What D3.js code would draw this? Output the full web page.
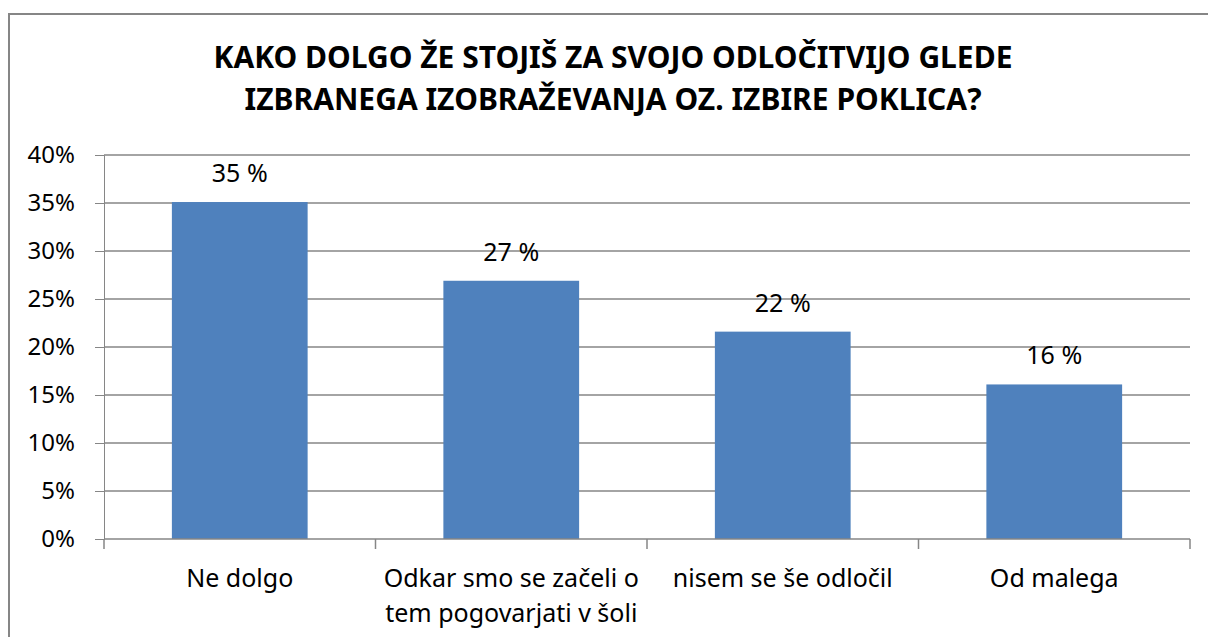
<!DOCTYPE html>
<html>
<head>
<meta charset="utf-8">
<script src="https://cdn.jsdelivr.net/npm/d3@7"></script>
<style>
  body { margin: 0; background: #fff; }
  text { font-family: "Noto Sans", "Open Sans", sans-serif; fill: #000; }
</style>
</head>
<body>
<div id="chart"></div>
<script>
// Chart data
const titleLines = ["KAKO DOLGO ŽE STOJIŠ ZA SVOJO ODLOČITVIJO GLEDE",
                    "IZBRANEGA IZOBRAŽEVANJA OZ. IZBIRE POKLICA?"];
const categories = [["Ne dolgo"],
                    ["Odkar smo se začeli o", "tem pogovarjati v šoli"],
                    ["nisem se še odločil"],
                    ["Od malega"]];
const values = [35.1, 26.9, 21.6, 16.1];
const valueLabels = ["35 %", "27 %", "22 %", "16 %"];
const yTicks = [0, 5, 10, 15, 20, 25, 30, 35, 40];

const width = 1208, height = 637;
const margin = {top: 155, right: 18, bottom: 98, left: 104};
const plot_width = width - margin.left - margin.right;
const plot_height = height - margin.top - margin.bottom;
const gridColor = "#868686";

let svg = d3.select("#chart")
    .append("svg")
    .attr("width", width)
    .attr("height", height);

// outer chart border
svg.append("rect")
    .attr("x", 9)
    .attr("y", 14)
    .attr("width", width)
    .attr("height", height)
    .attr("fill", "none")
    .attr("stroke", gridColor)
    .attr("stroke-width", 2);

// Title
svg.append("text")
    .attr("x", 613)
    .attr("y", 68)
    .style("text-anchor", "middle")
    .style("font-size", "30px")
    .style("font-weight", "bold")
    .selectAll("tspan")
    .data(titleLines)
    .enter()
    .append("tspan")
    .attr("x", 613)
    .attr("dy", function(d, i) { return i == 0 ? 0 : 42; })
    .text(function(d) { return d; });

let g = svg.append("g")
    .attr("transform", `translate(${margin.left}, ${margin.top})`);

let x = d3.scaleBand()
    .domain(d3.range(values.length))
    .range([0, plot_width])
    .paddingInner(0.5)
    .paddingOuter(0.25);

let xOuter = d3.scaleBand()
    .domain(d3.range(values.length))
    .range([0, plot_width]);

let y = d3.scaleLinear()
    .domain([0, 40])
    .range([plot_height, 0]);

// gridlines + y ticks
let yAxis = g.append("g")
    .call(d3.axisLeft(y)
        .tickValues(yTicks)
        .tickSize(9)
        .tickPadding(20)
        .tickFormat(function(d) { return d + "%"; }));
yAxis.select(".domain").attr("stroke", gridColor);
yAxis.selectAll(".tick line").attr("stroke", gridColor);
yAxis.selectAll(".tick text")
    .style("font-size", "24px")
    .style("font-family", "'Noto Sans', sans-serif")
    .attr("fill", "#000");

g.append("g").selectAll("line")
    .data(yTicks.slice(1))
    .enter()
    .append("line")
    .attr("x1", 0)
    .attr("x2", plot_width)
    .attr("y1", function(d) { return y(d); })
    .attr("y2", function(d) { return y(d); })
    .attr("stroke", gridColor)
    .attr("stroke-width", 1.5);

// bars
g.selectAll("rect.bar")
    .data(values)
    .enter()
    .append("rect")
    .attr("class", "bar")
    .attr("x", function(d, i) { return x(i); })
    .attr("y", function(d) { return y(d); })
    .attr("width", x.bandwidth())
    .attr("height", function(d) { return y(0) - y(d); })
    .attr("fill", "#4F81BD");

// value labels
g.selectAll("text.val")
    .data(values)
    .enter()
    .append("text")
    .attr("class", "val")
    .attr("x", function(d, i) { return x(i) + x.bandwidth() / 2; })
    .attr("y", function(d) { return y(d) - 20; })
    .style("text-anchor", "middle")
    .style("font-size", "25px")
    .text(function(d, i) { return valueLabels[i]; });

// x axis line + category ticks
let xTickPos = d3.range(values.length + 1).map(function(i) {
    return i < values.length ? xOuter(i) : plot_width;
});
g.append("line")
    .attr("x1", 0)
    .attr("x2", plot_width)
    .attr("y1", plot_height)
    .attr("y2", plot_height)
    .attr("stroke", gridColor)
    .attr("stroke-width", 1.5);
g.append("g").selectAll("line")
    .data(xTickPos)
    .enter()
    .append("line")
    .attr("x1", function(d) { return d; })
    .attr("x2", function(d) { return d; })
    .attr("y1", plot_height)
    .attr("y2", plot_height + 10)
    .attr("stroke", gridColor)
    .attr("stroke-width", 1.5);

// category labels
let catLabels = g.append("g").selectAll("text")
    .data(categories)
    .enter()
    .append("text")
    .attr("x", function(d, i) { return xOuter(i) + xOuter.bandwidth() / 2; })
    .attr("y", plot_height + 48)
    .style("text-anchor", "middle")
    .style("font-size", "25px");
catLabels.selectAll("tspan")
    .data(function(d) { return d; })
    .enter()
    .append("tspan")
    .attr("x", function() { return d3.select(this.parentNode).attr("x"); })
    .attr("dy", function(d, i) { return i == 0 ? 0 : 35; })
    .text(function(d) { return d; });
</script>
</body>
</html>
